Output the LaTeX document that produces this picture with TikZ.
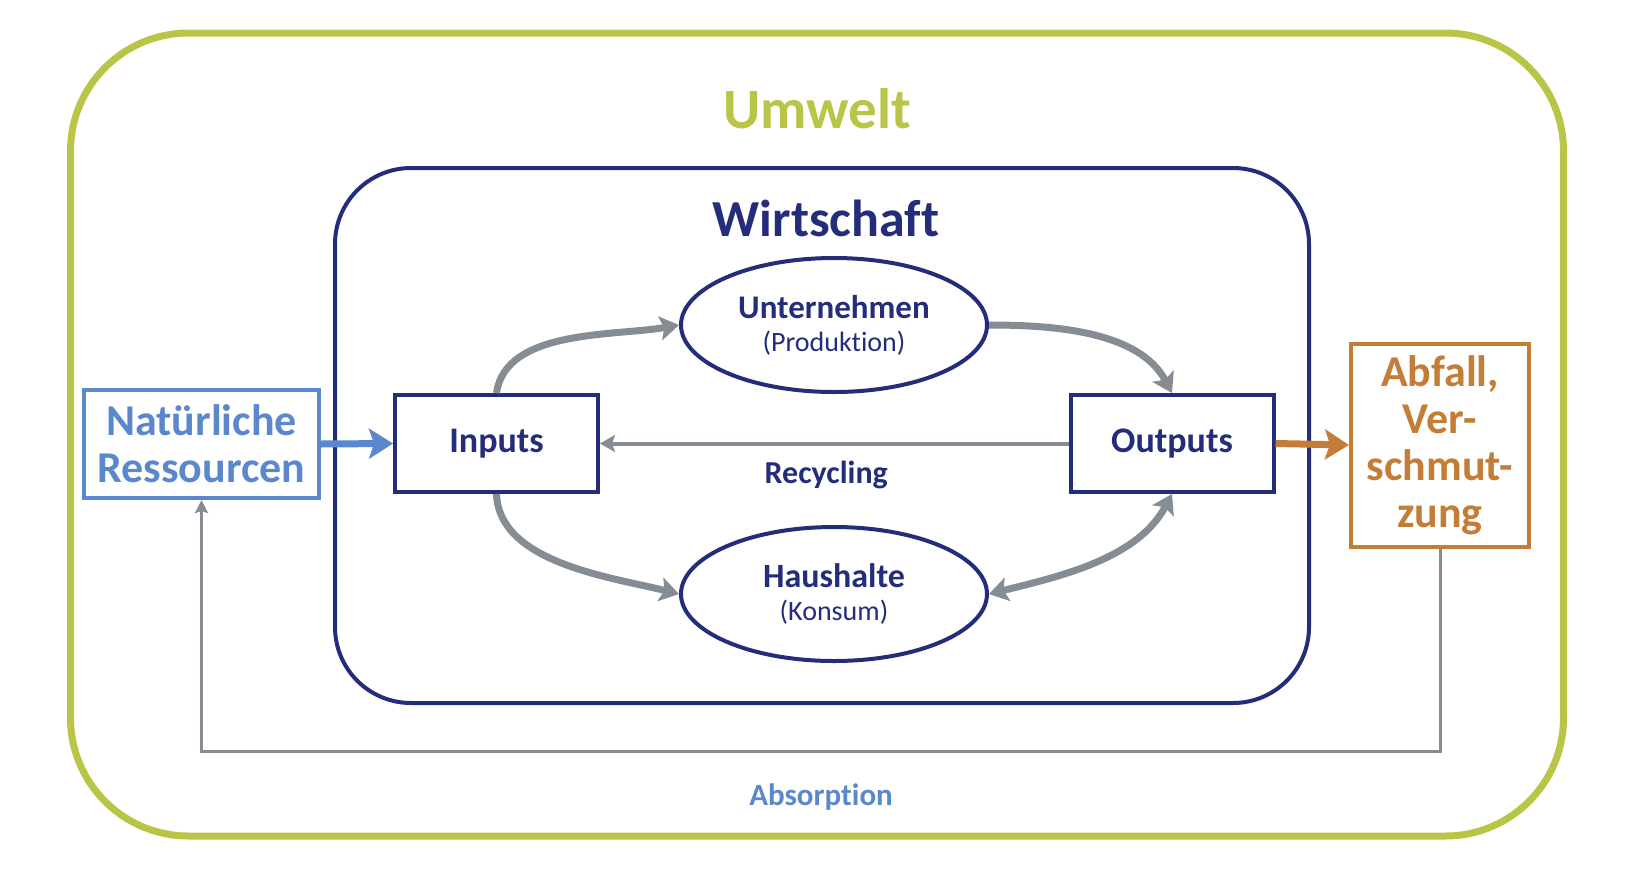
\documentclass[tikz,border=0pt]{standalone}
\usepackage{fontspec}
\setmainfont{Carlito}[Ligatures=NoCommon]
\usetikzlibrary{shapes.geometric,arrows.meta,positioning}
\definecolor{gruenUmwelt}{RGB}{184,197,70}
\definecolor{blauWirtschaft}{RGB}{36,45,122}
\definecolor{blauRessource}{RGB}{91,135,205}
\definecolor{orangeAbfall}{RGB}{196,125,55}
\definecolor{grauFluss}{RGB}{133,140,147}
\tikzset{
  rahmen/.style={rectangle, line width=7pt, inner sep=0pt},
  kasten/.style={rectangle, draw=blauWirtschaft, line width=4pt, fill=white,
                 minimum width=203pt, minimum height=97pt, inner sep=0pt,
                 align=center, text=blauWirtschaft,
                 font=\fontsize{36}{42}\selectfont\bfseries},
  aussen/.style={rectangle, line width=4pt, fill=white, inner sep=0pt,
                 align=center, font=\fontsize{44}{47}\selectfont\bfseries},
  sektor/.style={ellipse, draw=blauWirtschaft, line width=4pt, fill=white,
                 minimum width=306pt, minimum height=134pt, inner sep=0pt,
                 align=center, text=blauWirtschaft,
                 font=\fontsize{28}{33}\selectfont},
  titel/.style={font=\fontsize{57}{62}\selectfont\bfseries},
  fluss/.style={-{Stealth[length=19pt, width=24pt, inset=4pt]}, line width=7pt, grauFluss},
  zufluss/.style={-{Stealth[length=24pt, width=30pt, inset=5pt]}, line width=7pt},
  recyc/.style={-{Stealth[length=15pt, width=17pt, inset=3pt]}, line width=4pt, grauFluss},
  absorb/.style={-{Stealth[length=13pt, width=13pt, inset=2pt]}, line width=3pt, grauFluss},
}

\begin{document}
\begin{tikzpicture}[x=1pt, y=-1pt]
  \useasboundingbox (0,0) rectangle (1626,868);
  % Rahmen: Umwelt und Wirtschaft
  \node[rahmen, draw=gruenUmwelt, rounded corners=118pt,
        minimum width=1493pt, minimum height=803pt] (umwelt) at (817,434.5) {};
  \node[rahmen, draw=blauWirtschaft, line width=4pt, rounded corners=76pt,
        minimum width=974pt, minimum height=535pt] (wirt) at (822,435.5) {};
  \node[titel, text=gruenUmwelt] (tumwelt) at (817,109) {Umwelt};
  \node[titel, font=\fontsize{52}{56}\selectfont\bfseries, text=blauWirtschaft]
       (twirt) at (826,218) {Wirtschaft};

  % Knoten
  \node[kasten] (inp) at (496.5,443.5) {Inputs};
  \node[kasten] (outp) at (1172,443.5) {Outputs};
  \node[sektor] (unt) at (834,325)
       {{\fontsize{33}{33}\selectfont\bfseries Unternehmen}\\(Produktion)};
  \node[sektor] (haus) at (834,594)
       {{\fontsize{34}{33}\selectfont\bfseries Haushalte}\\(Konsum)};
  \node[aussen, draw=blauRessource, text=blauRessource,
        minimum width=235pt, minimum height=108pt] (nat) at (201.5,444)
       {Natürliche\\Ressourcen};
  \node[aussen, draw=orangeAbfall, text=orangeAbfall,
        minimum width=178pt, minimum height=203pt] (abf) at (1440,445)
       {Abfall,\\Ver-\\schmut-\\zung};

  % Kreislauf
  \draw[fluss] (inp.north) to[out=82, in=190, looseness=0.85] (unt.west);
  \draw[fluss] (unt.east) to[out=0, in=118, looseness=0.9] (outp.north);
  \draw[fluss] (inp.south) to[out=-88, in=166, looseness=0.85] (haus.west);
  \draw[fluss, {Stealth[length=19pt, width=24pt, inset=4pt]}-{Stealth[length=19pt, width=24pt, inset=4pt]}]
       (haus.east) to[out=14, in=-118, looseness=0.9] (outp.south);
  \draw[recyc] (outp.west) -- (inp.east)
       node[midway, below=12pt, xshift=-8pt, text=blauWirtschaft,
            font=\fontsize{32}{36}\selectfont\bfseries] (trec) {Recycling};

  % Austausch mit der Umwelt
  \draw[zufluss, blauRessource] (nat.east) -- (inp.west);
  \draw[zufluss, orangeAbfall] (outp.east) -- (abf.west);
  \coordinate (boden) at (0,751);
  \draw[absorb] (abf.south) -- (abf.south |- boden) -| (nat.south);
  \node[text=blauRessource, font=\fontsize{31}{36}\selectfont\bfseries]
       (tabs) at (821,797) {Absorption};
\end{tikzpicture}
\end{document}
